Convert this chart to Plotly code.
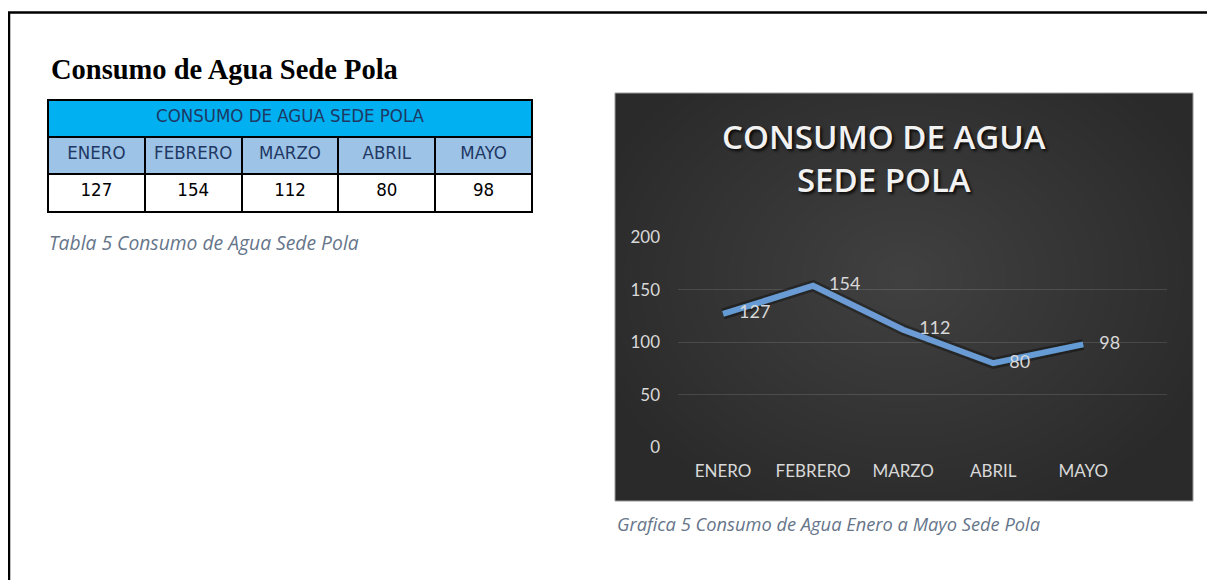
import plotly.graph_objects as go

# ---- data ----
months = ["ENERO", "FEBRERO", "MARZO", "ABRIL", "MAYO"]
consumo = [127, 154, 112, 80, 98]
y_ticks = [0, 50, 100, 150, 200]
heading = "Consumo de Agua Sede Pola"
table_title = "CONSUMO DE AGUA SEDE POLA"
chart_title = "CONSUMO DE AGUA<br>SEDE POLA"
table_caption = "Tabla 5 Consumo de Agua Sede Pola"
chart_caption = "Grafica 5 Consumo de Agua Enero a Mayo Sede Pola"

# page body has an 8px margin: figure is placed at (8, 8) in the window
OX, OY = 8, 8
W, H = 1207, 572


def px(x):
    return (x - OX) / W


def py(y):
    return 1 - (y - OY) / H


NARROW = "Liberation Sans Narrow, DejaVu Sans Condensed, Arial Narrow, sans-serif"
CHART_FONT = "Lato, Open Sans, sans-serif"

fig = go.Figure()

# ---- table (title row + months + values) ----
fig.add_trace(go.Table(
    domain=dict(x=[px(48), px(533)], y=[py(137), py(100)]),
    columnwidth=[1],
    header=dict(values=[table_title], fill_color="#00B0F0",
                line=dict(color="black", width=2), height=37, align="center",
                font=dict(family=NARROW, size=18.5, color="#1F3864")),
    cells=dict(values=[[]], height=0),
))
fig.add_trace(go.Table(
    domain=dict(x=[px(48), px(533)], y=[py(216), py(137)]),
    header=dict(values=months, fill_color="#9DC3E6",
                line=dict(color="black", width=2), height=37, align="center",
                font=dict(family=NARROW, size=18.5, color="#1F3864")),
    cells=dict(values=[[v] for v in consumo], fill_color="white",
               line=dict(color="black", width=2), height=38, align="center",
               font=dict(family=NARROW, size=18.5, color="black")),
))

# ---- line chart ----
fig.add_trace(go.Scatter(
    x=months, y=consumo, mode="lines",
    line=dict(color="rgba(0,0,0,0.45)", width=11),
    hoverinfo="skip", showlegend=False,
))
fig.add_trace(go.Scatter(
    x=months, y=consumo, mode="lines+markers+text",
    line=dict(color="#5B9BD5", width=6),
    marker=dict(size=24, color="rgba(0,0,0,0)"),
    text=[str(v) for v in consumo], textposition="middle right",
    textfont=dict(family=CHART_FONT, size=18, color="#D9D9D9"),
    cliponaxis=False, showlegend=False,
))

fig.update_layout(
    width=W, height=H,
    margin=dict(l=0, r=0, t=0, b=0, autoexpand=False),
    paper_bgcolor="white", plot_bgcolor="rgba(0,0,0,0)",
    showlegend=False,
    xaxis=dict(domain=[px(678), px(1167)], type="category",
               categoryorder="array", categoryarray=months,
               range=[-0.5, 4.93], showgrid=False, zeroline=False,
               showline=False, ticks="", ticklabelstandoff=12,
               tickfont=dict(family=CHART_FONT, size=17, color="#D9D9D9")),
    yaxis=dict(domain=[py(447), py(237)], range=[0, 200.5],
               tickvals=y_ticks, showgrid=True,
               gridcolor="rgba(255,255,255,0.12)", gridwidth=1,
               zeroline=False, showline=False, ticks="", ticklabelstandoff=17,
               tickfont=dict(family=CHART_FONT, size=17, color="#D9D9D9")),
    xaxis2=dict(domain=[px(615), px(1193)], range=[0, 1], visible=False,
                fixedrange=True, anchor="y2"),
    yaxis2=dict(domain=[py(501), py(93)], range=[0, 1], visible=False,
                fixedrange=True, anchor="x2"),
)

shapes = []
# outer page border
shapes.append(dict(type="rect", xref="paper", yref="paper",
                   x0=px(9), x1=1.05, y0=-0.05, y1=py(12.5),
                   line=dict(color="black", width=2.5), layer="below"))
# dark chart panel
shapes.append(dict(type="rect", xref="paper", yref="paper",
                   x0=px(615), x1=px(1193), y0=py(501), y1=py(93),
                   fillcolor="#2a2a2a", line=dict(color="#9a9a9a", width=1),
                   layer="below"))
# radial lightening of the panel
N = 22
for i in range(N):
    f = 1.0 - i / N
    shapes.append(dict(type="circle", xref="x2", yref="y2",
                       x0=0.5 - 0.56 * f, x1=0.5 + 0.56 * f,
                       y0=0.55 - 0.62 * f, y1=0.55 + 0.62 * f,
                       fillcolor="rgba(255,255,255,0.0085)",
                       line=dict(width=0), layer="below"))
fig.update_layout(shapes=shapes)

ann = []
ann.append(dict(text=heading, xref="paper", yref="paper", x=px(49), y=py(69),
                xanchor="left", yanchor="middle", showarrow=False,
                font=dict(family="Liberation Serif, Times New Roman, serif",
                          size=28.5, color="black", weight="bold")))
ann.append(dict(text=table_caption, xref="paper", yref="paper", x=px(47), y=py(242),
                xanchor="left", yanchor="middle", showarrow=False,
                font=dict(family="Open Sans, sans-serif", size=19.3,
                          color="#66758A", style="italic")))
ann.append(dict(text=chart_caption, xref="paper", yref="paper", x=px(615), y=py(523),
                xanchor="left", yanchor="middle", showarrow=False,
                font=dict(family="Open Sans, sans-serif", size=18.3,
                          color="#66758A", style="italic")))
ann.append(dict(text=chart_title, xref="paper", yref="paper", x=px(884), y=py(158),
                xanchor="center", yanchor="middle", showarrow=False,
                font=dict(family="Open Sans, sans-serif", size=33,
                          color="#F2F2F2", weight=600,
                          shadow="2px 2px 3px rgba(0,0,0,0.85)")))
fig.update_layout(annotations=ann)

fig.write_html("out.html")
